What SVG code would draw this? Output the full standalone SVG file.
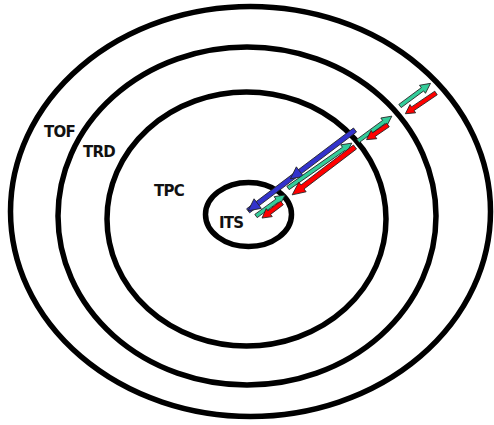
<svg xmlns="http://www.w3.org/2000/svg" width="494" height="425" viewBox="0 0 494 425">
  <style>
    .ring { fill: none; stroke: #000; stroke-width: 5.5; }
    .lbl { font-family: "DejaVu Sans", Verdana, sans-serif; font-weight: bold; font-size: 15px; letter-spacing: -0.8px; fill: #111; }
    .arr { stroke: #222; stroke-width: 0.8; stroke-linejoin: miter; }
    .blue { fill: #3333cc; }
    .green { fill: #33cc99; }
    .red { fill: #ff0000; }
  </style>
  <rect width="494" height="425" fill="#fff"/>

  <g id="tof">
    <ellipse class="ring" cx="250.5" cy="211.5" rx="240" ry="205"/>
    <text class="lbl" x="44" y="137">TOF</text>
  </g>
  <g id="trd">
    <ellipse class="ring" cx="247" cy="216" rx="189" ry="169"/>
    <text class="lbl" x="83" y="157">TRD</text>
  </g>
  <g id="tpc">
    <ellipse class="ring" cx="246.5" cy="219" rx="139.5" ry="127"/>
    <text class="lbl" x="154" y="196">TPC</text>
  </g>
  <g id="its">
    <ellipse class="ring" cx="248.5" cy="214.5" rx="43" ry="32"/>
    <text class="lbl" x="219" y="228" font-size="14">ITS</text>
  </g>

  <!-- track arrows: each drawn from tail (origin) along +x to its tip -->
  <g id="connectors">
    <!-- blue: inward, two heads -->
    <g transform="translate(355,130) rotate(142.9)">
      <path class="arr blue" d="M0,-2.5 L134,-2.5 L134,2.5 L0,2.5 Z"/>
      <path class="arr blue" d="M69,-2.5 L69,-6 L81,0 L69,6 L69,2.5 Z"/>
      <path class="arr blue" d="M122,-2.5 L122,-6 L134,0 L122,6 L122,2.5 Z"/>
    </g>
    <!-- long pair -->
    <g transform="translate(288,188) rotate(-35.1)">
      <path class="arr green" d="M0,-2 L68,-2 L68,-5 L78,0 L68,5 L68,2 L0,2 Z"/>
    </g>
    <g transform="translate(355,147) rotate(142.7)">
      <path class="arr red" d="M0,-2.5 L66,-2.5 L66,-6 L79,0 L66,6 L66,2.5 L0,2.5 Z"/>
    </g>
    <!-- inner pair -->
    <g transform="translate(256,216) rotate(-35.9)">
      <path class="arr green" d="M0,-2 L26,-2 L26,-5 L36,0 L26,5 L26,2 L0,2 Z"/>
    </g>
    <g transform="translate(282,203) rotate(143)">
      <path class="arr red" d="M0,-2.2 L16,-2.2 L16,-5 L25,0 L16,5 L16,2.2 L0,2.2 Z"/>
    </g>
    <!-- middle pair -->
    <g transform="translate(358,141) rotate(-36.3)">
      <path class="arr green" d="M0,-2 L32,-2 L32,-5 L42,0 L32,5 L32,2 L0,2 Z"/>
    </g>
    <g transform="translate(388,125) rotate(145.7)">
      <path class="arr red" d="M0,-2.2 L17,-2.2 L17,-5 L26,0 L17,5 L17,2.2 L0,2.2 Z"/>
    </g>
    <!-- outer pair -->
    <g transform="translate(400,106) rotate(-36.6)">
      <path class="arr green" d="M0,-2 L28,-2 L28,-5 L38,0 L28,5 L28,2 L0,2 Z"/>
    </g>
    <g transform="translate(436,93) rotate(145.9)">
      <path class="arr red" d="M0,-2.2 L28,-2.2 L28,-5 L37,0 L28,5 L28,2.2 L0,2.2 Z"/>
    </g>
  </g>
</svg>
